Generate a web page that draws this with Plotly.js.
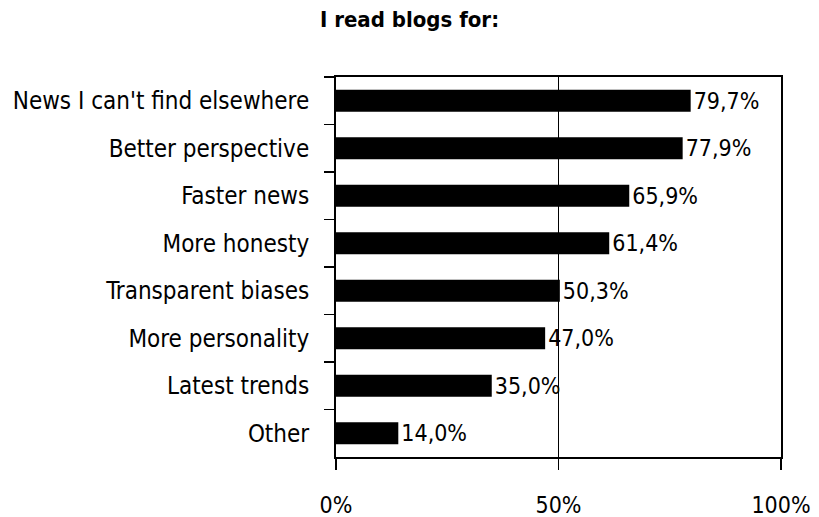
<!DOCTYPE html>
<html><head><meta charset="utf-8">
<script src="https://cdn.plot.ly/plotly-3.0.1.min.js"></script>
<style>body{margin:0;background:#fff}#chart{width:819px;height:517px}</style>
</head><body><div id="chart"></div>
<script>
const categories = ["News I can't find elsewhere","Better perspective","Faster news","More honesty","Transparent biases","More personality","Latest trends","Other"];
const values = [79.7, 77.9, 65.9, 61.4, 50.3, 47.0, 35.0, 14.0];
const valueLabels = ["79,7%","77,9%","65,9%","61,4%","50,3%","47,0%","35,0%","14,0%"];
const xTickVals = [0, 50, 100];
const xTickText = ["0%","50%","100%"];

const FONT = "DejaVu Sans Condensed, DejaVu Sans, sans-serif";
const trace = {
  type: 'bar', orientation: 'h',
  x: values, y: categories,
  marker: {color: '#000000'},
  text: valueLabels, textposition: 'outside', cliponaxis: false,
  constraintext: 'none',
  textfont: {family: FONT, size: 23, color: '#000'},
  width: 0.46, hoverinfo: 'none'
};
const layout = {
  width: 819, height: 517,
  margin: {l: 336, r: 38, t: 77, b: 60},
  paper_bgcolor: '#fff', plot_bgcolor: '#fff',
  showlegend: false,
  title: {text: '<b>I read blogs for:</b>', x: 0.5, xanchor: 'center', y: 0.962, yanchor: 'middle',
          font: {family: FONT, size: 22, color: '#000'}},
  xaxis: {range: [0, 100], tickvals: xTickVals, ticktext: xTickText,
          showgrid: true, gridcolor: '#000', gridwidth: 1.5,
          showline: true, linecolor: '#000', linewidth: 2, mirror: true,
          ticks: 'outside', ticklen: 11, tickwidth: 1.5, tickcolor: '#000',
          ticklabelstandoff: 15, zeroline: false,
          tickfont: {family: FONT, size: 23, color: '#000'}, fixedrange: true},
  yaxis: {type: 'category', autorange: 'reversed',
          showline: true, linecolor: '#000', linewidth: 2, mirror: true,
          ticks: 'outside', ticklen: 10, tickwidth: 1.5, tickcolor: '#000',
          tickson: 'boundaries', showgrid: false,
          ticklabelstandoff: 20,
          tickfont: {family: FONT, size: 24, color: '#000'}, fixedrange: true}
};
Plotly.newPlot('chart', [trace], layout, {displayModeBar: false, staticPlot: true});
</script></body></html>
